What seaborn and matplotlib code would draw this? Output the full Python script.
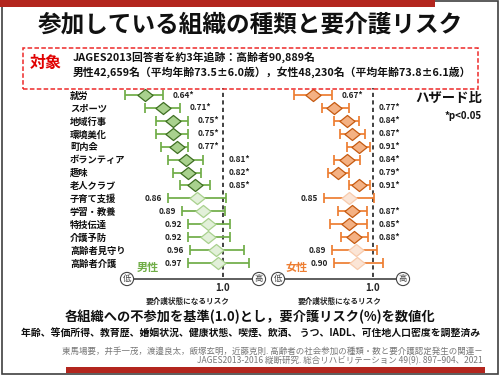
import matplotlib.pyplot as plt
from matplotlib.patches import Rectangle
from matplotlib.path import Path
from matplotlib.ticker import NullLocator
import numpy as np
import pandas as pd
import seaborn as sns

W, H = 500, 375

categories = ["就労", "スポーツ", "地域行事", "環境美化", "町内会", "ボランティア", "趣味",
              "老人クラブ", "子育て支援", "学習・教養", "特技伝達", "介護予防", "高齢者見守り", "高齢者介護"]

# 男性 ハザード比と95%CI
male_hr = [0.64, 0.71, 0.75, 0.75, 0.77, 0.81, 0.82, 0.85, 0.86, 0.89, 0.92, 0.92, 0.96, 0.97]
male_lo = [0.57, 0.64, 0.68, 0.68, 0.70, 0.73, 0.75, 0.78, 0.73, 0.79, 0.82, 0.82, 0.83, 0.82]
male_hi = [0.71, 0.78, 0.82, 0.82, 0.82, 0.89, 0.88, 0.93, 1.02, 1.01, 1.04, 1.04, 1.13, 1.16]
male_sig = [True] * 8 + [False] * 6

# 女性
female_hr = [0.67, 0.77, 0.84, 0.87, 0.91, 0.84, 0.79, 0.91, 0.85, 0.87, 0.85, 0.88, 0.89, 0.90]
female_lo = [0.59, 0.71, 0.77, 0.80, 0.84, 0.77, 0.74, 0.85, 0.72, 0.79, 0.75, 0.81, 0.76, 0.77]
female_hi = [0.76, 0.85, 0.91, 0.95, 0.98, 0.92, 0.85, 0.98, 1.01, 0.96, 0.96, 0.97, 1.03, 1.07]
female_sig = [True] * 8 + [False] + [True] * 3 + [False] * 2

sns.set_theme(style="white")
plt.rcParams['font.family'] = ['Noto Sans CJK JP', 'DejaVu Sans']

fig = plt.figure(figsize=(5, 3.75), dpi=100)
fig.patch.set_facecolor('white')


def fx(x):
    return x / W


def fy(y):
    return 1 - y / H


def rect(x0, y0, x1, y1, **kw):
    fig.add_artist(Rectangle((fx(x0), fy(y1)), (x1 - x0) / W, (y1 - y0) / H,
                             transform=fig.transFigure, **kw))


# 枠と装飾バー
rect(1.5, 1.0, 498, 374, fill=False, ec='#404040', lw=1.2)
rect(0, 0, 435, 7, fc='#b3261e', ec='none')
rect(66, 367, 485, 373, fc='#b3261e', ec='none')
rect(23, 48, 478, 89, fill=False, ec='#ee2a2a', lw=1.1, ls=(0, (3, 1.5)))

fig.text(fx(250), fy(24), "参加している組織の種類と要介護リスク", ha='center', va='center',
         fontsize=17, fontweight='bold', color='#111111')
fig.text(fx(30), fy(63), "対象", ha='left', va='center', fontsize=11.5, fontweight='bold', color='#e00000')
fig.text(fx(73), fy(57), "JAGES2013回答者を約3年追跡：高齢者90,889名", ha='left', va='center',
         fontsize=7.8, fontweight='bold', color='#111111')
fig.text(fx(73), fy(72), "男性42,659名（平均年齢73.5±6.0歳），女性48,230名（平均年齢73.8±6.1歳）",
         ha='left', va='center', fontsize=7.8, fontweight='bold', color='#111111')
fig.text(fx(415), fy(98), "ハザード比", ha='left', va='center', fontsize=9.6, fontweight='bold', color='#111111')
fig.text(fx(445), fy(116), "*p<0.05", ha='left', va='center', fontsize=7, fontweight='bold', color='#111111')

diamond = Path([(-1, 0), (0, 0.8), (1, 0), (0, -0.8), (-1, 0)], closed=True)
row_step = (263 - 95) / 13


def forest(left, right, ref_px, scale, hr, lo, hi, sig, colors, lo_px, hi_px, label_x):
    line_c, sig_fill, sig_edge, ns_fill, ns_edge = colors
    ax = fig.add_axes([fx(left), fy(279), (right - left) / W, (279 - 86) / H])
    ax.patch.set_visible(False)
    ax.set_xscale('log')
    df = pd.DataFrame({"row": range(len(hr)), "hr": hr, "lo": lo, "hi": hi, "sig": sig})

    ax.errorbar(df["hr"], df["row"], xerr=[df["hr"] - df["lo"], df["hi"] - df["hr"]], fmt='none',
                ecolor=line_c, elinewidth=1.25, capsize=3.6, capthick=1.25, zorder=2)
    sns.scatterplot(data=df[df["sig"]], x="hr", y="row", marker=diamond, s=118, color=sig_fill,
                    edgecolor=sig_edge, linewidth=0.9, zorder=3, ax=ax)
    sns.scatterplot(data=df[~df["sig"]], x="hr", y="row", marker=diamond, s=118, color=ns_fill,
                    edgecolor=ns_edge, linewidth=0.9, zorder=3, ax=ax)
    ax.axvline(1.0, ymin=2 / 193, ymax=191 / 193, color='#222222', lw=1.2, ls=(0, (2.5, 2)), zorder=1)

    # 数値ラベル
    thr = np.exp(-32 / scale)
    for r in df.itertuples():
        kw = dict(textcoords='offset points', va='center', fontsize=6, fontweight='bold', color='#222222')
        if r.sig:
            if r.hi <= thr:
                ax.annotate(f"{r.hr:.2f}*", (r.hi, r.row), xytext=(7, 0), ha='left', **kw)
            else:
                ax.annotate(f"{r.hr:.2f}*", (1.0, r.row), xytext=(4, 0), ha='left', **kw)
        else:
            ax.annotate(f"{r.hr:.2f}", (r.lo, r.row), xytext=(-4.3, 0), ha='right', **kw)

    ax.set_xlim(np.exp((left - ref_px) / scale), np.exp((right - ref_px) / scale))
    ax.set_ylim((279 - 95) / row_step, (86 - 95) / row_step)
    ax.set_xticks([1.0])
    ax.set_xticklabels(["1.0"])
    ax.xaxis.set_minor_locator(NullLocator())
    ax.tick_params(axis='x', length=0, pad=3, labelsize=7)
    for t in ax.get_xticklabels():
        t.set_fontweight('bold')
    sns.despine(ax=ax, left=True)
    ax.spines['bottom'].set_bounds(np.exp((lo_px - ref_px) / scale), np.exp((hi_px - ref_px) / scale))
    ax.spines['bottom'].set_color('#333333')
    ax.spines['bottom'].set_linewidth(1.1)
    ax.set_ylabel("")
    ax.set_xlabel("要介護状態になるリスク", fontsize=5.5, fontweight='bold', va='center')
    ax.xaxis.set_label_coords((label_x - left) / (right - left), (279 - 301) / 193)
    return ax


ax_m = forest(120, 270, 223, 175, male_hr, male_lo, male_hi, male_sig,
              ('#70ad47', '#a9d18e', '#3f6f23', '#e2f0d9', '#a9d18e'), 127, 259, 188)
ax_m.set_yticks(range(len(categories)))
ax_m.set_yticklabels(categories, ha='left', fontsize=6.7, fontweight='bold', color='#111111')
ax_m.tick_params(axis='y', length=0, pad=36)

ax_f = forest(270, 410, 373, 150, female_hr, female_lo, female_hi, female_sig,
              ('#ed7d31', '#f4b183', '#c55a11', '#fbe5d6', '#f8cbad'), 278, 403, 340)
ax_f.set_yticks([])

fig.text(fx(137), fy(267), "男性", ha='left', va='center', fontsize=8, fontweight='bold', color='#70ad47')
fig.text(fx(285), fy(267), "女性", ha='left', va='center', fontsize=8, fontweight='bold', color='#ed7d31')

for x, s in [(127, "低"), (259, "高"), (278, "低"), (403, "高")]:
    fig.text(fx(x), fy(279), s, ha='center', va='center', fontsize=6, color='#444444', zorder=5,
             bbox=dict(boxstyle='circle,pad=0.25', fc='white', ec='#444444', lw=0.8))

fig.text(fx(250), fy(317), "各組織への不参加を基準(1.0)とし，要介護リスク(%)を数値化", ha='center', va='center',
         fontsize=9.5, fontweight='bold', color='#111111')
fig.text(fx(251), fy(334), "年齢、等価所得、教育歴、婚姻状況、健康状態、喫煙、飲酒、 うつ、IADL、可住地人口密度を調整済み",
         ha='center', va='center', fontsize=7.1, fontweight='bold', color='#111111')
fig.text(fx(483), fy(351), "東馬場要，井手一茂，渡邉良太，飯塚玄明，近藤克則. 高齢者の社会参加の種類・数と要介護認定発生の関連－",
         ha='right', va='center', fontsize=6.1, color='#777777')
fig.text(fx(483), fy(361), "JAGES2013-2016 縦断研究. 総合リハビリテーション 49(9). 897–904、2021",
         ha='right', va='center', fontsize=6.1, color='#777777')

plt.savefig("out.png", dpi=100)
